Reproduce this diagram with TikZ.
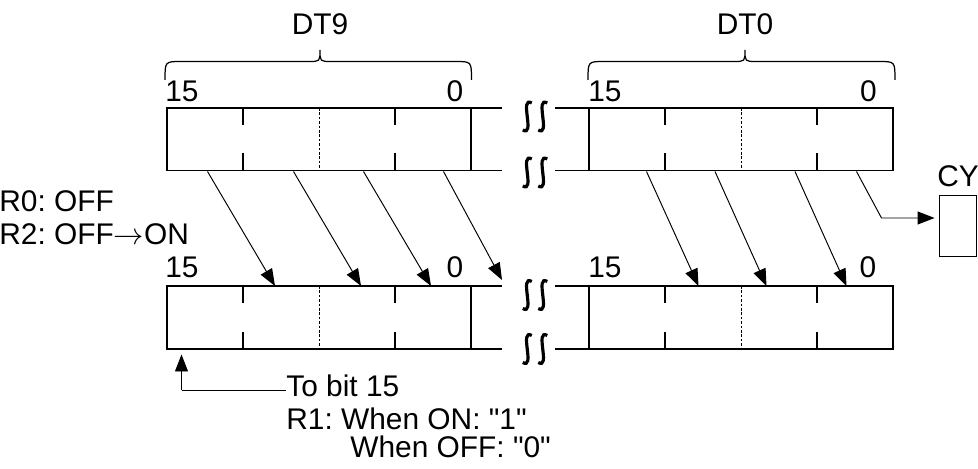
\documentclass[tikz,border=0pt]{standalone}
\usepackage{fontspec}
\setmainfont{Liberation Sans}
\usetikzlibrary{arrows.meta}
\frenchspacing

% pair of break marks, centred at (#1,#2)
\newcommand{\brkmark}[2]{%
  \foreach \dx in {-0.155,0.155}{%
    \draw[brk] ({#1+\dx+0.09},{#2+0.27}) .. controls ({#1+\dx-0.17},{#2+0.42})
      and ({#1+\dx+0.17},{#2-0.42}) .. ({#1+\dx-0.09},{#2-0.27});}}

\begin{document}
\begin{tikzpicture}[
    reg/.style={line width=0.8pt},
    tick/.style={line width=0.7pt},
    mid/.style={line width=0.5pt, dash pattern=on 1.5pt off 1pt},
    brk/.style={line width=1.8pt},
    brc/.style={line width=0.7pt},
    sarrow/.style={line width=0.55pt, -{Triangle[length=0.34cm,width=0.26cm]}},
    lbl/.style={inner sep=0pt, font=\fontsize{17}{20}\selectfont}]

  \useasboundingbox (0,0) rectangle (19.56,9.38);

  % --- DT9 (oben) ---
  \draw[reg] (10.04,7.22) -- (3.34,7.22) -- (3.34,5.97) -- (10.04,5.97);
  \draw[reg] (9.42,7.22) -- (9.42,5.97);
  \draw[tick] (4.86,7.22) -- ++(0,-0.34) (4.86,5.97) -- ++(0,0.34);
  \draw[tick] (7.90,7.22) -- ++(0,-0.34) (7.90,5.97) -- ++(0,0.34);
  \draw[mid] (6.38,7.22) -- (6.38,5.97);
  \draw[brc] (3.30,7.78) .. controls (3.30,8.15) .. (3.62,8.15) -- (6.18,8.15)
    .. controls (6.40,8.15) .. (6.40,8.38) .. controls (6.40,8.15) .. (6.62,8.15)
    -- (9.11,8.15) .. controls (9.43,8.15) .. (9.43,7.78);
  \node[lbl, anchor=base] (dtnine) at (6.40,8.68) {DT9};
  \node[lbl, anchor=base west] (hinine) at (3.30,7.35) {15};
  \node[lbl, anchor=base east] (lonine) at (9.27,7.35) {0};

  % --- DT0 (oben) ---
  \draw[reg] (11.10,7.22) -- (17.86,7.22) -- (17.86,5.97) -- (11.10,5.97);
  \draw[reg] (11.78,7.22) -- (11.78,5.97);
  \draw[tick] (13.30,7.22) -- ++(0,-0.34) (13.30,5.97) -- ++(0,0.34);
  \draw[tick] (16.34,7.22) -- ++(0,-0.34) (16.34,5.97) -- ++(0,0.34);
  \draw[mid] (14.82,7.22) -- (14.82,5.97);
  \draw[brc] (11.76,7.78) .. controls (11.76,8.15) .. (12.08,8.15) -- (14.68,8.15)
    .. controls (14.90,8.15) .. (14.90,8.38) .. controls (14.90,8.15) .. (15.12,8.15)
    -- (17.58,8.15) .. controls (17.90,8.15) .. (17.90,7.78);
  \node[lbl, anchor=base] (dtzero) at (14.90,8.68) {DT0};
  \node[lbl, anchor=base west] (hizero) at (11.76,7.35) {15};
  \node[lbl, anchor=base east] (lozero) at (17.54,7.35) {0};

  % --- DT9 (unten) ---
  \draw[reg] (10.04,3.66) -- (3.34,3.66) -- (3.34,2.40) -- (10.04,2.40);
  \draw[reg] (9.42,3.66) -- (9.42,2.40);
  \draw[tick] (4.86,3.66) -- ++(0,-0.34) (4.86,2.40) -- ++(0,0.34);
  \draw[tick] (7.90,3.66) -- ++(0,-0.34) (7.90,2.40) -- ++(0,0.34);
  \draw[mid] (6.38,3.66) -- (6.38,2.40);
  \node[lbl, anchor=base west] (hininel) at (3.30,3.82) {15};
  \node[lbl, anchor=base east] (loninel) at (9.27,3.82) {0};

  % --- DT0 (unten) ---
  \draw[reg] (11.10,3.66) -- (17.86,3.66) -- (17.86,2.40) -- (11.10,2.40);
  \draw[reg] (11.78,3.66) -- (11.78,2.40);
  \draw[tick] (13.30,3.66) -- ++(0,-0.34) (13.30,2.40) -- ++(0,0.34);
  \draw[tick] (16.34,3.66) -- ++(0,-0.34) (16.34,2.40) -- ++(0,0.34);
  \draw[mid] (14.82,3.66) -- (14.82,2.40);
  \node[lbl, anchor=base west] (hizerol) at (11.76,3.82) {15};
  \node[lbl, anchor=base east] (lozerol) at (17.53,3.82) {0};

  % --- Unterbrechungen ---
  \brkmark{10.70}{7.05}
  \brkmark{10.70}{5.93}
  \brkmark{10.70}{3.48}
  \brkmark{10.70}{2.40}

  % --- Schiebepfeile ---
  \coordinate (a1) at (4.15,5.95);  \coordinate (e1) at (5.50,3.66);
  \coordinate (a2) at (5.87,5.95);  \coordinate (e2) at (7.22,3.66);
  \coordinate (a3) at (7.27,5.95);  \coordinate (e3) at (8.62,3.66);
  \coordinate (a4) at (8.87,5.95);  \coordinate (e4) at (10.04,3.78);
  \coordinate (b1) at (12.93,5.95); \coordinate (f1) at (13.97,3.66);
  \coordinate (b2) at (14.30,5.95); \coordinate (f2) at (15.33,3.66);
  \coordinate (b3) at (15.90,5.95); \coordinate (f3) at (16.93,3.66);
  \draw[sarrow] (a1) -- (e1);
  \draw[sarrow] (a2) -- (e2);
  \draw[sarrow] (a3) -- (e3);
  \draw[sarrow] (a4) -- (e4);
  \draw[sarrow] (b1) -- (f1);
  \draw[sarrow] (b2) -- (f2);
  \draw[sarrow] (b3) -- (f3);

  % --- CY ---
  \node[draw, reg, minimum width=0.75cm, minimum height=1.23cm, inner sep=0pt] (cy) at (19.16,4.86) {};
  \node[lbl, anchor=base] (cylbl) at (19.16,5.65) {CY};
  \coordinate (c0) at (17.13,5.95);
  \coordinate (c1) at (17.63,5.02);
  \draw[sarrow, shorten >=0.08cm] (c0) -- (c1) -- (c1 -| cy.west);

  % --- Bedingungen ---
  \node[lbl, anchor=base west] (rzero) at (-0.02,5.15) {R0: OFF};
  \node[lbl, anchor=base west] (rtwo) at (-0.02,4.48) {R2: OFF$\rightarrow$ON};

  % --- bit 15 ---
  \node[lbl, anchor=base west] (tobit) at (5.72,1.45) {To bit 15};
  \node[lbl, anchor=base west] (rone) at (5.72,0.78) {R1: When ON: \textquotedbl 1\textquotedbl};
  \node[lbl, anchor=base west] (roff) at (7.00,0.22) {When OFF: \textquotedbl 0\textquotedbl};
  \coordinate (g0) at (3.63,1.58);
  \coordinate (g1) at (3.63,2.29);
  \draw[sarrow] (g0) -- (g1);
  \draw[sarrow, -] (g0) -- (g0 -| tobit.west);

\end{tikzpicture}
\end{document}
